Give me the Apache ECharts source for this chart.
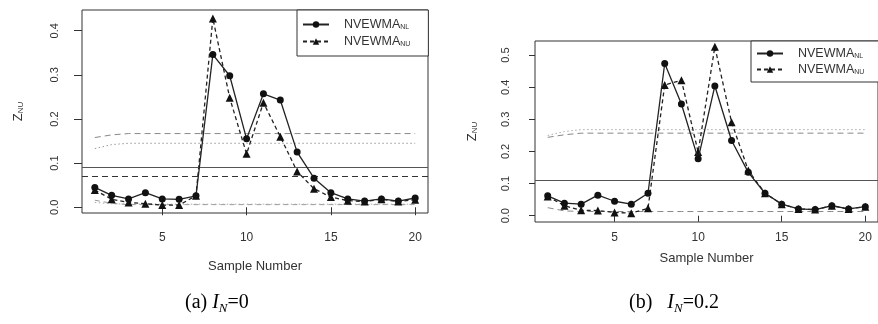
<!DOCTYPE html>
<html>
<head>
<meta charset="utf-8">
<script src="https://cdn.jsdelivr.net/npm/echarts@6/dist/echarts.min.js"></script>
<style>
html,body{margin:0;padding:0;background:#fff;}
#chart{width:878px;height:324px;}
</style>
</head>
<body>
<div id="chart"></div>
<script>
// ---- data ----
const samples = [1,2,3,4,5,6,7,8,9,10,11,12,13,14,15,16,17,18,19,20];
const xTicks = [5,10,15,20];
const yTicksA = [0,0.1,0.2,0.3,0.4];
const yTicksB = [0,0.1,0.2,0.3,0.4,0.5];

// Panel (a) I_N = 0
const nlA = [0.045,0.027,0.019,0.033,0.019,0.018,0.026,0.346,0.298,0.155,0.257,0.243,0.125,0.066,0.033,0.019,0.014,0.019,0.014,0.021];
const nuA = [0.039,0.018,0.011,0.008,0.005,0.005,0.026,0.428,0.248,0.121,0.237,0.160,0.081,0.042,0.023,0.015,0.013,0.018,0.013,0.017];
const uclDashA = [0.158,0.164,0.167,0.167,0.167,0.167,0.167,0.167,0.167,0.167,0.167,0.167,0.167,0.167,0.167,0.167,0.167,0.167,0.167,0.167];
const uclDotA  = [0.133,0.142,0.145,0.145,0.145,0.145,0.145,0.145,0.145,0.145,0.145,0.145,0.145,0.145,0.145,0.145,0.145,0.145,0.145,0.145];
const lclDashA = [0.016,0.009,0.006,0.006,0.006,0.006,0.006,0.006,0.006,0.006,0.006,0.006,0.006,0.006,0.006,0.006,0.006,0.006,0.006,0.006];
const lclDotA  = [0.011,0.008,0.007,0.007,0.007,0.007,0.007,0.007,0.007,0.007,0.007,0.007,0.007,0.007,0.007,0.007,0.007,0.007,0.007,0.007];
const hSolidA = 0.086;
const hDashA = 0.073;

// Panel (b) I_N = 0.2
const nlB = [0.062,0.039,0.036,0.064,0.045,0.036,0.070,0.474,0.348,0.177,0.404,0.234,0.135,0.070,0.036,0.021,0.019,0.031,0.021,0.028];
const nuB = [0.060,0.031,0.017,0.016,0.010,0.008,0.023,0.407,0.422,0.198,0.526,0.291,0.141,0.070,0.036,0.021,0.019,0.031,0.021,0.028];
const uclDashB = [0.244,0.252,0.257,0.257,0.257,0.257,0.257,0.257,0.257,0.257,0.257,0.257,0.257,0.257,0.257,0.257,0.257,0.257,0.257,0.257];
const uclDotB  = [0.250,0.262,0.268,0.268,0.268,0.268,0.268,0.268,0.268,0.268,0.268,0.268,0.268,0.268,0.268,0.268,0.268,0.268,0.268,0.268];
const lclDashB = [0.025,0.015,0.013,0.013,0.013,0.013,0.013,0.013,0.013,0.013,0.013,0.013,0.013,0.013,0.013,0.013,0.013,0.013,0.013,0.013];
const hSolidB = 0.112;

const seriesNames = ['NVEWMA_NL','NVEWMA_NU'];
const subs = {'NVEWMA_NL':'NL','NVEWMA_NU':'NU'};

// ---- chart ----
const pair = arr => samples.map((x,i)=>[x,arr[i]]);
const TXT = '#333';
const FONT = 'Liberation Sans';

function xAxisCfg(gridIndex, margin, tickLen, gap){
  return {
    type:'value', gridIndex, min:0.24, max:20.76,
    axisLine:{show:false},
    splitLine:{show:false},
    axisTick:{show:true, inside:false, length:tickLen, customValues:xTicks, lineStyle:{color:'#333'}},
    axisLabel:{customValues:xTicks, margin, color:TXT, fontSize:12, fontFamily:FONT},
    name:'Sample Number', nameLocation:'middle', nameGap:gap,
    nameTextStyle:{color:TXT, fontSize:13, fontFamily:FONT}
  };
}
function yAxisCfg(gridIndex, min, max, ticks, margin, tickLen, gap){
  return {
    type:'value', gridIndex, min, max,
    axisLine:{show:false},
    splitLine:{show:false},
    axisTick:{show:true, inside:false, length:tickLen, customValues:ticks, lineStyle:{color:'#333'}},
    axisLabel:{customValues:ticks, margin, rotate:90, color:TXT, fontSize:11, fontFamily:FONT,
      formatter: v => v.toFixed(1)},
    name:'{z|Z}{s|NU}', nameLocation:'middle', nameGap:gap, nameRotate:90,
    nameTextStyle:{color:TXT, fontFamily:FONT,
      rich:{z:{fontSize:13, color:TXT, fontFamily:FONT}, s:{fontSize:8, color:TXT, fontFamily:FONT, padding:[6,0,0,0]}}}
  };
}
function dataSeries(idx, nl, nu){
  return [
    {name:'NVEWMA_NL', type:'line', xAxisIndex:idx, yAxisIndex:idx, data:pair(nl),
     symbol:'circle', symbolSize:7, itemStyle:{color:'#111'},
     lineStyle:{color:'#222', width:1.3, type:'solid'}, z:5},
    {name:'NVEWMA_NU', type:'line', xAxisIndex:idx, yAxisIndex:idx, data:pair(nu),
     symbol:'triangle', symbolSize:8, itemStyle:{color:'#111'},
     lineStyle:{color:'#222', width:1.3, type:[4,3]}, z:4}
  ];
}
function limitSeries(idx, arr, type, color){
  return {name:'lim', type:'line', xAxisIndex:idx, yAxisIndex:idx, data:pair(arr),
    symbol:'none', silent:true, lineStyle:{color, width:1, type}, z:2};
}
function hLine(idx, val, type, color){
  return {name:'h', type:'line', xAxisIndex:idx, yAxisIndex:idx, data:[], silent:true,
    markLine:{silent:true, symbol:'none', label:{show:false}, animation:false,
      lineStyle:{color, width:1, type}, data:[{yAxis:val}]}, z:1};
}
function legendCfg(left, top, gap, padding){
  return {
    data:seriesNames, orient:'vertical', left, top,
    itemWidth:26, itemHeight:8, itemGap:gap,
    padding,
    backgroundColor:'#fff', borderColor:'#333', borderWidth:1, borderRadius:0,
    selectedMode:false,
    formatter: n => '{a|NVEWMA}{b|' + subs[n] + '}',
    textStyle:{color:TXT, fontFamily:FONT, padding:[0,0,0,10],
      rich:{a:{fontSize:12.5, color:TXT, fontFamily:FONT}, b:{fontSize:7, color:TXT, fontFamily:FONT, padding:[6,0,0,0]}}}
  };
}

const capStyle = {color:'#000', fontFamily:'Liberation Serif', fontSize:20, fontWeight:'normal',
  rich:{i:{fontStyle:'italic', fontSize:20, fontFamily:'Liberation Serif', color:'#000'},
        s:{fontStyle:'italic', fontSize:13, fontFamily:'Liberation Serif', color:'#000', padding:[11,0,0,0]}}};

const chart = echarts.init(document.getElementById('chart'), null, {renderer:'canvas'});
chart.setOption({
  animation:false,
  backgroundColor:'#fff',
  title:[
    {text:'(a) {i|I}{s|N}=0', left:180, top:286, textStyle:capStyle},
    {text:'(b)   {i|I}{s|N}=0.2', left:624, top:286, textStyle:capStyle}
  ],
  grid:[
    {left:82, top:10, width:346, height:203, show:true, borderColor:'#333', borderWidth:1, backgroundColor:'transparent'},
    {left:535, top:41, width:348, height:181, show:true, borderColor:'#333', borderWidth:1, backgroundColor:'transparent'}
  ],
  xAxis:[ xAxisCfg(0, 19, 8, 47), xAxisCfg(1, 10, 6, 30) ],
  yAxis:[ yAxisCfg(0, -0.013, 0.447, yTicksA, 22, 8, 57),
          yAxisCfg(1, -0.0196, 0.544, yTicksB, 24, 6, 56) ],
  legend:[ legendCfg(297, 10, 4, [8,18,8,5]), legendCfg(751, 41, 3, [6,18,6,5]) ],
  series:[
    hLine(0, hSolidA, 'solid', '#555'),
    hLine(0, hDashA, [6,4], '#333'),
    limitSeries(0, uclDashA, [6,4], '#888'),
    limitSeries(0, uclDotA, [1.5,2.5], '#999'),
    limitSeries(0, lclDashA, [5,4], '#999'),
    limitSeries(0, lclDotA, [1.5,2.5], '#aaa'),
    ...dataSeries(0, nlA, nuA),
    hLine(1, hSolidB, 'solid', '#555'),
    limitSeries(1, uclDashB, [6,4], '#888'),
    limitSeries(1, uclDotB, [1.5,2.5], '#aaa'),
    limitSeries(1, lclDashB, [6,4], '#888'),
    ...dataSeries(1, nlB, nuB)
  ]
});
</script>
</body>
</html>
